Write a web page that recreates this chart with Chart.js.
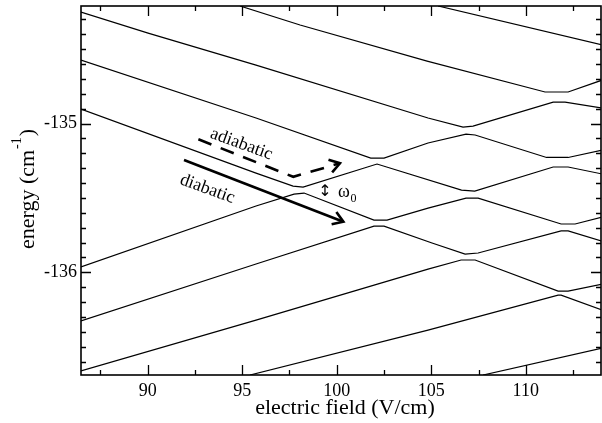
<!DOCTYPE html>
<html><head><meta charset="utf-8">
<script src="https://cdn.jsdelivr.net/npm/chart.js@4.4.0/dist/chart.umd.min.js"></script>
<style>html,body{margin:0;padding:0;background:#fff;}canvas{display:block}</style>
</head><body>
<canvas id="c" width="602" height="423"></canvas>
<script>
// ---- axes ----
const xTicks = [90, 95, 100, 105, 110];
const yTicks = [-136, -135];
const xMinorStep = 2.5, yMinorStep = 0.1;
const xRange = [86.47, 113.98];
const yRange = [-136.69, -134.21];
const xTitle = 'electric field (V/cm)';
const yTitleMain = 'energy (cm', yTitleSup = '-1', yTitleEnd = ')';

// ---- adiabatic energy curves ----
const c0x = [105.36, 114.04];
const c0y = [-134.210, -134.472];
const c1x = [94.88, 98.06, 104.78, 111.02, 112.24, 114.04];
const c1y = [-134.210, -134.338, -134.580, -134.788, -134.788, -134.708];
const c2x = [86.47, 90.02, 95.73, 104.83, 106.68, 107.21, 111.45, 112.08, 114.04];
const c2y = [-134.251, -134.392, -134.607, -134.963, -135.024, -135.017, -134.856, -134.856, -134.896];
const c3x = [86.47, 95.73, 101.80, 102.50, 104.83, 106.84, 107.32, 111.10, 112.24, 114.04];
const c3y = [-134.573, -134.963, -135.232, -135.232, -135.131, -135.071, -135.077, -135.228, -135.228, -135.178];
const c4x = [86.47, 95.73, 97.69, 98.22, 102.13, 106.60, 107.30, 111.45, 112.24, 114.04];
const c4y = [-134.903, -135.333, -135.420, -135.427, -135.272, -135.447, -135.454, -135.292, -135.292, -135.339];
const c5x = [86.47, 95.73, 97.74, 98.27, 101.97, 102.66, 104.83, 106.84, 107.48, 111.87, 112.61, 114.04];
const c5y = [-135.964, -135.554, -135.474, -135.467, -135.649, -135.649, -135.568, -135.501, -135.501, -135.675, -135.675, -135.628];
const c6x = [86.47, 95.73, 101.97, 102.50, 105.04, 106.79, 107.48, 111.87, 112.24, 114.04];
const c6y = [-136.327, -135.944, -135.689, -135.689, -135.803, -135.877, -135.870, -135.722, -135.722, -135.790];
const c7x = [86.47, 95.73, 104.83, 106.58, 107.32, 111.71, 112.24, 114.04];
const c7y = [-136.663, -136.321, -135.978, -135.917, -135.917, -136.126, -136.126, -136.079];
const c8x = [95.41, 104.83, 111.71, 111.87, 114.04];
const c8y = [-136.690, -136.388, -136.153, -136.153, -136.253];
const c9x = [107.74, 114.04];
const c9y = [-136.690, -136.509];
const curveX = [c0x, c1x, c2x, c3x, c4x, c5x, c6x, c7x, c8x, c9x];
const curveY = [c0y, c1y, c2y, c3y, c4y, c5y, c6y, c7y, c8y, c9y];

// ---- annotations (data coordinates) ----
const adiabaticArrowX = [92.68, 97.70, 100.17];
const adiabaticArrowY = [-135.106, -135.358, -135.267];
const diabaticArrowX = [91.92, 100.35];
const diabaticArrowY = [-135.245, -135.660];
const labelTexts = ['adiabatic', 'diabatic'];
const labelX = [94.96, 93.15];
const labelY = [-135.138, -135.440];
const gapMark = '\u2195', gapMarkX = 99.38, gapMarkY = -135.460;
const omegaText = '\u03C9', omegaSub = '0', omegaX = 100.07, omegaY = -135.494;

const SERIF = '"Liberation Serif", "Times New Roman", serif';

const datasets = curveX.map((xs, i) => ({
  data: xs.map((v, j) => ({x: v, y: curveY[i][j]})),
  showLine: true, borderColor: '#000', borderWidth: 1.2,
  pointRadius: 0, fill: false, tension: 0, clip: 0
}));

function arrowHead(ctx, from, to, len, ang) {
  const a = Math.atan2(to[1] - from[1], to[0] - from[0]);
  ctx.beginPath();
  ctx.moveTo(to[0] - len * Math.cos(a - ang), to[1] - len * Math.sin(a - ang));
  ctx.lineTo(to[0], to[1]);
  ctx.lineTo(to[0] - len * Math.cos(a + ang), to[1] - len * Math.sin(a + ang));
  ctx.stroke();
}

const deco = {
  id: 'deco',
  afterDatasetsDraw(chart) {
    const {ctx, scales: {x, y}} = chart;
    const P = (a, b) => [x.getPixelForValue(a), y.getPixelForValue(b)];
    ctx.save();
    ctx.strokeStyle = '#000'; ctx.fillStyle = '#000';
    ctx.lineWidth = 2.6; ctx.lineCap = 'butt'; ctx.lineJoin = 'miter';
    // dashed adiabatic arrow
    const ap = adiabaticArrowX.map((v, i) => P(v, adiabaticArrowY[i]));
    ctx.setLineDash([14, 10]);
    ctx.beginPath(); ctx.moveTo(ap[0][0], ap[0][1]);
    for (let i = 1; i < ap.length; i++) ctx.lineTo(ap[i][0], ap[i][1]);
    ctx.stroke();
    ctx.setLineDash([]);
    arrowHead(ctx, ap[ap.length - 2], ap[ap.length - 1], 12, 0.58);
    // solid diabatic arrow
    const dp = diabaticArrowX.map((v, i) => P(v, diabaticArrowY[i]));
    ctx.beginPath(); ctx.moveTo(dp[0][0], dp[0][1]); ctx.lineTo(dp[1][0], dp[1][1]); ctx.stroke();
    arrowHead(ctx, dp[0], dp[1], 12, 0.58);
    // rotated labels
    ctx.font = '18px ' + SERIF;
    ctx.textAlign = 'center'; ctx.textBaseline = 'middle';
    labelTexts.forEach((t, i) => {
      const p = P(labelX[i], labelY[i]);
      ctx.save(); ctx.translate(p[0], p[1]); ctx.rotate(20 * Math.PI / 180);
      ctx.fillText(t, 0, 0); ctx.restore();
    });
    // gap marker and omega_0
    const g = P(gapMarkX, gapMarkY);
    ctx.font = '16px "DejaVu Sans", sans-serif';
    ctx.fillText(gapMark, g[0], g[1]);
    const o = P(omegaX, omegaY);
    ctx.textAlign = 'left'; ctx.textBaseline = 'alphabetic';
    ctx.font = '18px ' + SERIF;
    ctx.fillText(omegaText, o[0], o[1]);
    const ow = ctx.measureText(omegaText).width;
    ctx.font = '12px ' + SERIF;
    ctx.fillText(omegaSub, o[0] + ow + 0.5, o[1] + 5);
    ctx.restore();
  },
  afterDraw(chart) {
    const {ctx, chartArea: ca, scales: {x, y}} = chart;
    ctx.save();
    ctx.strokeStyle = '#000';
    ctx.lineWidth = 1.3;
    // inward ticks
    ctx.beginPath();
    for (let k = Math.ceil(xRange[0] / xMinorStep); k * xMinorStep <= xRange[1]; k++) {
      const v = k * xMinorStep;
      const major = xTicks.includes(v);
      const L = major ? 10 : 5;
      const px = Math.round(x.getPixelForValue(v)) + 0.5;
      ctx.moveTo(px, ca.bottom); ctx.lineTo(px, ca.bottom - L);
      ctx.moveTo(px, ca.top); ctx.lineTo(px, ca.top + L);
    }
    for (let k = Math.ceil(yRange[0] / yMinorStep - 1e-6); k * yMinorStep <= yRange[1]; k++) {
      const v = Math.round(k * yMinorStep * 10) / 10;
      const major = yTicks.includes(v);
      const L = major ? 10 : 5;
      const py = Math.round(y.getPixelForValue(v)) + 0.5;
      ctx.moveTo(ca.left, py); ctx.lineTo(ca.left + L, py);
      ctx.moveTo(ca.right, py); ctx.lineTo(ca.right - L, py);
    }
    ctx.stroke();
    // frame
    ctx.lineWidth = 1.6;
    ctx.strokeRect(ca.left, ca.top, ca.right - ca.left, ca.bottom - ca.top);
    // axis titles
    ctx.fillStyle = '#000';
    ctx.font = '22px ' + SERIF;
    ctx.textAlign = 'center'; ctx.textBaseline = 'alphabetic';
    ctx.fillText(xTitle, 345, 414);
    // y title with superscript
    ctx.save();
    ctx.translate(34, 189); ctx.rotate(-Math.PI / 2);
    ctx.textAlign = 'left';
    ctx.font = '22px ' + SERIF;
    const w1 = ctx.measureText(yTitleMain).width;
    const w3 = ctx.measureText(yTitleEnd).width;
    ctx.font = '14px ' + SERIF;
    const w2 = ctx.measureText(yTitleSup).width;
    const total = w1 + w2 + w3 + 2;
    let sx = -total / 2;
    ctx.font = '22px ' + SERIF;
    ctx.fillText(yTitleMain, sx, 0);
    ctx.font = '14px ' + SERIF;
    ctx.fillText(yTitleSup, sx + w1 + 1, -13);
    ctx.font = '22px ' + SERIF;
    ctx.fillText(yTitleEnd, sx + w1 + w2 + 2, 0);
    ctx.restore();
    ctx.restore();
  }
};

const zeroPad = s => { s.paddingTop = 0; s.paddingBottom = 0; s.paddingLeft = 0; s.paddingRight = 0; };

new Chart(document.getElementById('c').getContext('2d'), {
  type: 'scatter',
  data: {datasets},
  options: {
    responsive: false, animation: false, devicePixelRatio: 1,
    layout: {padding: {left: 0, top: 6, right: 1, bottom: 0}},
    plugins: {legend: {display: false}, tooltip: {enabled: false}},
    scales: {
      x: {
        type: 'linear', min: xRange[0], max: xRange[1],
        afterBuildTicks: s => { s.ticks = xTicks.map(v => ({value: v})); },
        afterFit: s => { s.height = 48; zeroPad(s); },
        grid: {display: false, drawTicks: false}, border: {display: false},
        ticks: {padding: 5, color: '#000', autoSkip: false, maxRotation: 0,
                font: {family: SERIF, size: 18}}
      },
      y: {
        type: 'linear', min: yRange[0], max: yRange[1],
        afterBuildTicks: s => { s.ticks = yTicks.map(v => ({value: v})); },
        afterFit: s => { s.width = 81; zeroPad(s); },
        grid: {display: false, drawTicks: false}, border: {display: false},
        ticks: {padding: 4, color: '#000', autoSkip: false,
                font: {family: SERIF, size: 18}}
      }
    }
  },
  plugins: [deco]
});
</script>
</body></html>
